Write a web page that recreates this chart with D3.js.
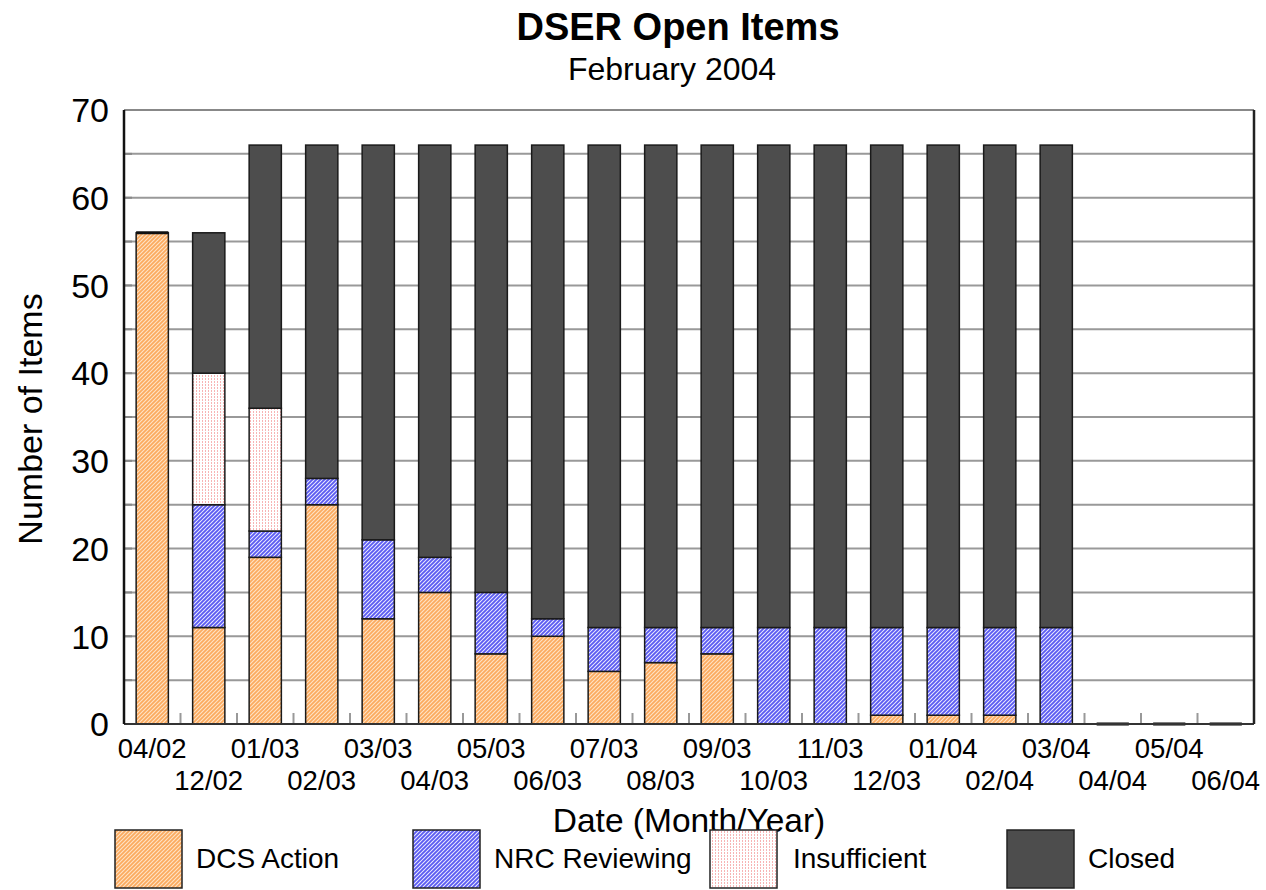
<!DOCTYPE html>
<html><head><meta charset="utf-8">
<script src="https://cdn.jsdelivr.net/npm/d3@7"></script>
<style>body{margin:0;background:#fff;} svg{display:block;font-family:"Liberation Sans",Arial,sans-serif;}</style>
</head><body>
<svg id="chart" width="1266" height="890"></svg>
<script>
const categories = ["04/02","12/02","01/03","02/03","03/03","04/03","05/03","06/03","07/03","08/03","09/03","10/03","11/03","12/03","01/04","02/04","03/04","04/04","05/04","06/04"];
const dcsAction   = [56,11,19,25,12,15, 8,10, 6, 7, 8, 0, 0, 1, 1, 1, 0,0,0,0];
const nrcReviewing= [ 0,14, 3, 3, 9, 4, 7, 2, 5, 4, 3,11,11,10,10,10,11,0,0,0];
const insufficient= [ 0,15,14, 0, 0, 0, 0, 0, 0, 0, 0, 0, 0, 0, 0, 0, 0,0,0,0];
const closed      = [ 0,16,30,38,45,47,51,54,55,55,55,55,55,55,55,55,55,0,0,0];
const seriesNames = ["DCS Action","NRC Reviewing","Insufficient","Closed"];
const yTicks = [0,10,20,30,40,50,60,70];

const svg = d3.select("#chart");
const defs = svg.append("defs");
// patterns
const pDcs = defs.append("pattern").attr("id","pDcs").attr("patternUnits","userSpaceOnUse").attr("width",4).attr("height",4);
pDcs.append("rect").attr("width",4).attr("height",4).attr("fill","#FFE2C4");
pDcs.append("path").attr("d","M0,4 L4,0 M-1,1 L1,-1 M3,5 L5,3").attr("stroke","#FBAA5E").attr("stroke-width",1.7);
const pNrc = defs.append("pattern").attr("id","pNrc").attr("patternUnits","userSpaceOnUse").attr("width",4).attr("height",4);
pNrc.append("rect").attr("width",4).attr("height",4).attr("fill","#EDEDFF");
pNrc.append("path").attr("d","M0,4 L4,0 M-1,1 L1,-1 M3,5 L5,3").attr("stroke","#5C5CF2").attr("stroke-width",1.9);
const pIns = defs.append("pattern").attr("id","pIns").attr("patternUnits","userSpaceOnUse").attr("width",3).attr("height",3);
pIns.append("rect").attr("width",3).attr("height",3).attr("fill","#ffffff");
pIns.append("rect").attr("x",1).attr("y",0).attr("width",1).attr("height",2).attr("fill","#F7B4B4");
const fills = ["url(#pDcs)","url(#pNrc)","url(#pIns)","#4D4D4D"];

const m = {left:124, right:1254, top:110, bottom:724};
const x = d3.scaleBand().domain(categories).range([m.left,m.right]).paddingInner(0.43).paddingOuter(0.215);
const y = d3.scaleLinear().domain([0,70]).range([m.bottom,m.top]);

// gridlines every 5
const grid = d3.range(5,70,5);
svg.append("g").selectAll("line").data(grid).join("line")
  .attr("x1",m.left).attr("x2",m.right).attr("y1",d=>y(d)).attr("y2",d=>y(d))
  .attr("stroke","#999").attr("stroke-width",2);
// frame top
svg.append("line").attr("x1",m.left).attr("x2",m.right).attr("y1",m.top).attr("y2",m.top).attr("stroke","#888").attr("stroke-width",2);

// stacked bars
const rows = categories.map((c,i)=>({cat:c,"DCS Action":dcsAction[i],"NRC Reviewing":nrcReviewing[i],"Insufficient":insufficient[i],"Closed":closed[i]}));
const stack = d3.stack().keys(seriesNames)(rows);
stack.forEach((s,si)=>{
  svg.append("g").selectAll("rect").data(s.filter(d=>d[1]-d[0]>0)).join("rect")
    .attr("x",d=>x(d.data.cat)).attr("width",x.bandwidth())
    .attr("y",d=>y(d[1])).attr("height",d=>y(d[0])-y(d[1]))
    .attr("fill",fills[si]).attr("stroke","#1a1a1a").attr("stroke-width",1.5);
});
// zero-height top segment (Closed = 0) drawn as a dark cap line
const totals = rows.map(r=>seriesNames.reduce((a,k)=>a+r[k],0));
svg.append("g").selectAll("line").data(categories.filter((c,i)=>totals[i]>0 && closed[i]===0 && nrcReviewing[i]===0)).join("line")
  .attr("x1",d=>x(d)).attr("x2",d=>x(d)+x.bandwidth())
  .attr("y1",d=>y(totals[categories.indexOf(d)])).attr("y2",d=>y(totals[categories.indexOf(d)]))
  .attr("stroke","#111").attr("stroke-width",3);
// zero-value bars drawn as flat line
svg.append("g").selectAll("line").data(categories.filter((c,i)=>totals[i]===0)).join("line")
  .attr("x1",d=>x(d)).attr("x2",d=>x(d)+x.bandwidth()).attr("y1",y(0)).attr("y2",y(0))
  .attr("stroke","#000").attr("stroke-width",3);

// x ticks between categories (inward)
const step = x.step();
svg.append("g").selectAll("line").data(d3.range(1,categories.length+1)).join("line")
  .attr("x1",i=>m.left+i*step).attr("x2",i=>m.left+i*step).attr("y1",m.bottom).attr("y2",m.bottom-11)
  .attr("stroke","#999").attr("stroke-width",2);
// y tick marks on left
svg.append("g").selectAll("line").data(d3.range(0,71,5)).join("line")
  .attr("x1",m.left).attr("x2",m.left+8).attr("y1",d=>y(d)).attr("y2",d=>y(d)).attr("stroke","#888").attr("stroke-width",2);

// axes lines
svg.append("line").attr("x1",m.left).attr("x2",m.right).attr("y1",m.bottom).attr("y2",m.bottom).attr("stroke","#333").attr("stroke-width",2);
svg.append("line").attr("x1",m.left).attr("x2",m.left).attr("y1",m.top).attr("y2",m.bottom).attr("stroke","#111").attr("stroke-width",2.5);
svg.append("line").attr("x1",m.right).attr("x2",m.right).attr("y1",m.top).attr("y2",m.bottom).attr("stroke","#222").attr("stroke-width",2.5);

// y labels
svg.append("g").selectAll("text").data(yTicks).join("text")
  .attr("x",m.left-15).attr("y",d=>y(d)).attr("dy","0.36em").attr("text-anchor","end")
  .attr("font-size",34).text(d=>d);
// x labels staggered
svg.append("g").selectAll("text").data(categories).join("text")
  .attr("x",d=>x(d)+x.bandwidth()/2).attr("y",(d,i)=>i%2===0?758:790)
  .attr("text-anchor","middle").attr("font-size",27.5).text(d=>d);

// titles
svg.append("text").attr("x",678).attr("y",40).attr("text-anchor","middle").attr("font-size",38).attr("font-weight","bold").text("DSER Open Items");
svg.append("text").attr("x",672).attr("y",80).attr("text-anchor","middle").attr("font-size",32).text("February 2004");
svg.append("text").attr("x",689).attr("y",832).attr("text-anchor","middle").attr("font-size",33.5).text("Date (Month/Year)");
svg.append("text").attr("transform","translate(42,419) rotate(-90)").attr("text-anchor","middle").attr("font-size",34).text("Number of Items");

// legend
const legX = [115,413,710,1007];
const legTX = [196,494,793,1088];
const lg = svg.append("g").selectAll("g").data(seriesNames).join("g");
lg.append("rect").attr("x",(d,i)=>legX[i]).attr("y",830).attr("width",67).attr("height",58)
  .attr("fill",(d,i)=>fills[i]).attr("stroke","#222").attr("stroke-width",1.5);
lg.append("text").attr("x",(d,i)=>legTX[i]).attr("y",858).attr("dy","0.36em").attr("font-size",28).text(d=>d);
</script>
</body></html>
